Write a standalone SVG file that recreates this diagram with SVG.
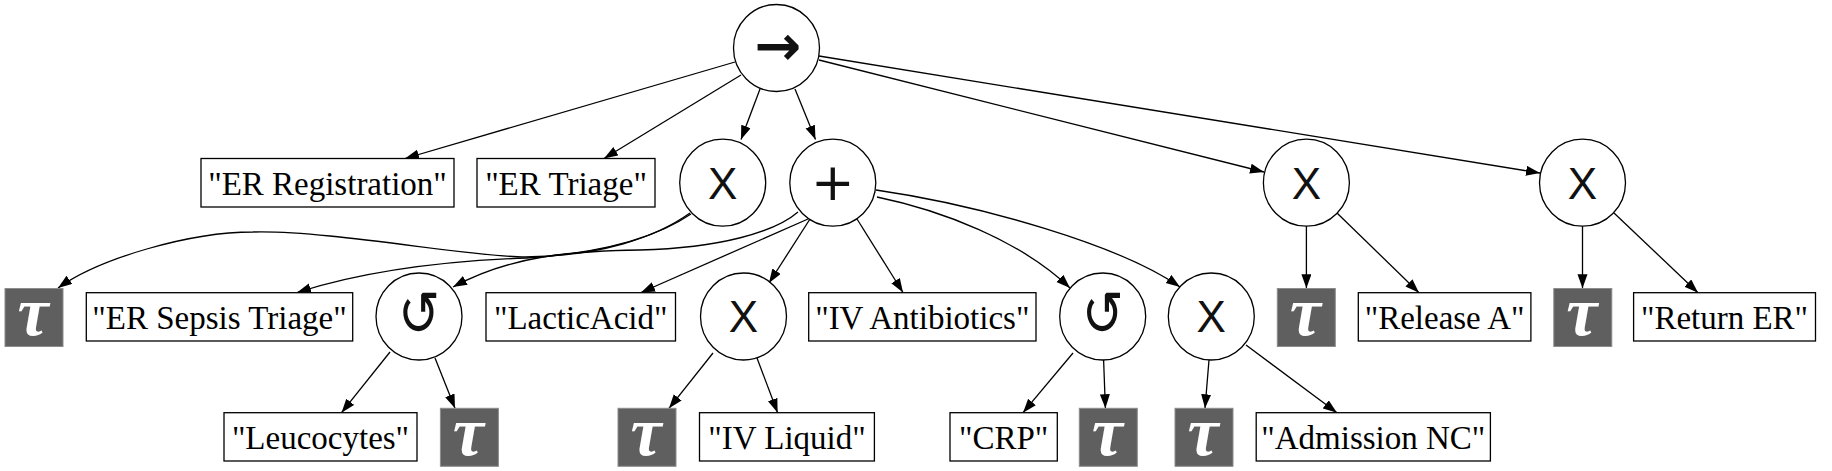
<svg xmlns="http://www.w3.org/2000/svg" width="1832" height="471" viewBox="0 0 1832 471">
<style>
.e{fill:none;stroke:#000;stroke-width:1.3;marker-end:url(#ah)}
.op{fill:#fff;stroke:#000;stroke-width:1.3}
.box{fill:#fff;stroke:#000;stroke-width:1.3}
.lbl{font-family:"Liberation Serif",serif;font-size:33px;text-anchor:middle;fill:#000}
.tr{fill:#5f5f5f;stroke:#8c8c8c;stroke-width:1}
.tt{font-family:"Liberation Serif",serif;font-style:italic;font-weight:bold;font-size:70px;fill:#fff;text-anchor:middle}
.x{font-family:"Liberation Sans",sans-serif;font-size:44px;text-anchor:middle;fill:#111}
.sym{font-family:"DejaVu Sans",sans-serif;text-anchor:middle;fill:#111}
.lp{font-family:"DejaVu Sans",sans-serif;text-anchor:middle;fill:#111;font-size:50px}
</style>
<defs>
<marker id="ah" markerUnits="userSpaceOnUse" markerWidth="15" markerHeight="11" refX="14" refY="5" orient="auto">
<path d="M0,0 L14,5 L0,10 z" fill="#000"/>
</marker>
</defs>
<rect width="1832" height="471" fill="#fff"/>
<g id="connectors">
<path class="e" d="M735,62 L405,158.5"/>
<path class="e" d="M741,75 L604,158.5"/>
<path class="e" d="M760,89 L741,139.5"/>
<path class="e" d="M795,89 L815.5,139.5"/>
<path class="e" d="M819,60 L1264,172"/>
<path class="e" d="M819,56 L1540,173"/>
<path class="e" d="M690,213 C655,238 600,256 525,257 C470,257 330,230 253,232 C190,232 100,258 58,288"/>
<path class="e" d="M691,214 C657,237 602,253 527,258 C470,260 380,266 297,292.5"/>
<path class="e" d="M798,212 C775,232 720,248 640,250 C570,251 510,256 453,287"/>
<path class="e" d="M808,219 L641,292.5"/>
<path class="e" d="M810,219 L769,283"/>
<path class="e" d="M857,219 L903,292.5"/>
<path class="e" d="M877,197 C940,210 1020,240 1070,288"/>
<path class="e" d="M876,190 C980,205 1120,245 1180,287"/>
<path class="e" d="M390,352 L341.5,412.7"/>
<path class="e" d="M435,358 L455,408.3"/>
<path class="e" d="M713,353 L669,408.3"/>
<path class="e" d="M757,358 L777.6,412.7"/>
<path class="e" d="M1073,353 L1023,412.7"/>
<path class="e" d="M1103.6,360 L1105.4,408.3"/>
<path class="e" d="M1209,360 L1205,408.3"/>
<path class="e" d="M1246,345 L1337,412.7"/>
<path class="e" d="M1306.4,226 L1306.4,288.3"/>
<path class="e" d="M1337,213 L1419,292.7"/>
<path class="e" d="M1582.5,226 L1582.5,288.3"/>
<path class="e" d="M1614,213 L1698,292.7"/>
</g>
<g id="root"><ellipse class="op" cx="776.5" cy="48" rx="43" ry="43.5"/><text class="sym" x="778" y="65" font-size="56" font-weight="bold">→</text></g>
<g id="er_registration"><rect class="box" x="201" y="158.5" width="253" height="48.5"/><text class="lbl" x="327.5" y="194.5">"ER Registration"</text></g>
<g id="er_triage"><rect class="box" x="477" y="158.5" width="178" height="48.5"/><text class="lbl" x="566" y="194.5">"ER Triage"</text></g>
<g id="xor1"><ellipse class="op" cx="722.7" cy="182.7" rx="43" ry="43.5"/><text class="x" x="722.7" y="198.5">X</text></g>
<g id="and1"><ellipse class="op" cx="832.8" cy="182.7" rx="43" ry="43.5"/><text class="sym" x="832.8" y="200" font-size="52">+</text></g>
<g id="xor3"><ellipse class="op" cx="1306.4" cy="182.7" rx="43" ry="43.5"/><text class="x" x="1306.4" y="198.5">X</text></g>
<g id="xor4"><ellipse class="op" cx="1582.5" cy="182.7" rx="43" ry="43.5"/><text class="x" x="1582.5" y="198.5">X</text></g>
<g id="tau1"><rect class="tr" x="5" y="288.5" width="58" height="58"/><text class="tt" x="33" y="335">τ</text></g>
<g id="er_sepsis_triage"><rect class="box" x="86.3" y="292.7" width="266.4" height="48.3"/><text class="lbl" x="219.5" y="328.6">"ER Sepsis Triage"</text></g>
<g id="loop1"><ellipse class="op" cx="419" cy="316.5" rx="43" ry="43.5"/><text class="lp" transform="translate(419,316.5) scale(1,1.25)" x="0" y="14.5">↺</text></g>
<g id="lacticacid"><rect class="box" x="486" y="292.7" width="189.5" height="48.3"/><text class="lbl" x="580.7" y="328.6">"LacticAcid"</text></g>
<g id="xor2"><ellipse class="op" cx="743.5" cy="316.5" rx="43" ry="43.5"/><text class="x" x="743.5" y="332.3">X</text></g>
<g id="iv_antibiotics"><rect class="box" x="808.7" y="292.7" width="227.3" height="48.3"/><text class="lbl" x="922.3" y="328.6">"IV Antibiotics"</text></g>
<g id="loop2"><ellipse class="op" cx="1102.7" cy="316.5" rx="43" ry="43.5"/><text class="lp" transform="translate(1102.7,316.5) scale(1,1.25)" x="0" y="14.5">↺</text></g>
<g id="xor5"><ellipse class="op" cx="1211.3" cy="316.5" rx="43" ry="43.5"/><text class="x" x="1211.3" y="332.3">X</text></g>
<g id="tau4"><rect class="tr" x="1277.3" y="288.5" width="58" height="58"/><text class="tt" x="1305.3" y="335">τ</text></g>
<g id="release_a"><rect class="box" x="1358.3" y="292.7" width="172.6" height="48.3"/><text class="lbl" x="1444.6" y="328.6">"Release A"</text></g>
<g id="tau5"><rect class="tr" x="1553.8" y="288.5" width="58" height="58"/><text class="tt" x="1581.8" y="335">τ</text></g>
<g id="return_er"><rect class="box" x="1633.6" y="292.7" width="181.9" height="48.3"/><text class="lbl" x="1724.5" y="328.6">"Return ER"</text></g>
<g id="leucocytes"><rect class="box" x="224" y="412.7" width="193" height="48.3"/><text class="lbl" x="320.5" y="448.6">"Leucocytes"</text></g>
<g id="tau2"><rect class="tr" x="440.4" y="408.3" width="58" height="58"/><text class="tt" x="468.4" y="455">τ</text></g>
<g id="tau3"><rect class="tr" x="618" y="408.3" width="58" height="58"/><text class="tt" x="646" y="455">τ</text></g>
<g id="iv_liquid"><rect class="box" x="699.5" y="412.7" width="174.9" height="48.3"/><text class="lbl" x="787" y="448.6">"IV Liquid"</text></g>
<g id="crp"><rect class="box" x="950" y="412.7" width="107.3" height="48.3"/><text class="lbl" x="1003.6" y="448.6">"CRP"</text></g>
<g id="tau6"><rect class="tr" x="1079.3" y="408.3" width="58" height="58"/><text class="tt" x="1107.3" y="455">τ</text></g>
<g id="tau7"><rect class="tr" x="1175" y="408.3" width="58" height="58"/><text class="tt" x="1203" y="455">τ</text></g>
<g id="admission_nc"><rect class="box" x="1256.2" y="412.7" width="234.2" height="48.3"/><text class="lbl" x="1373.3" y="448.6">"Admission NC"</text></g>
</svg>
